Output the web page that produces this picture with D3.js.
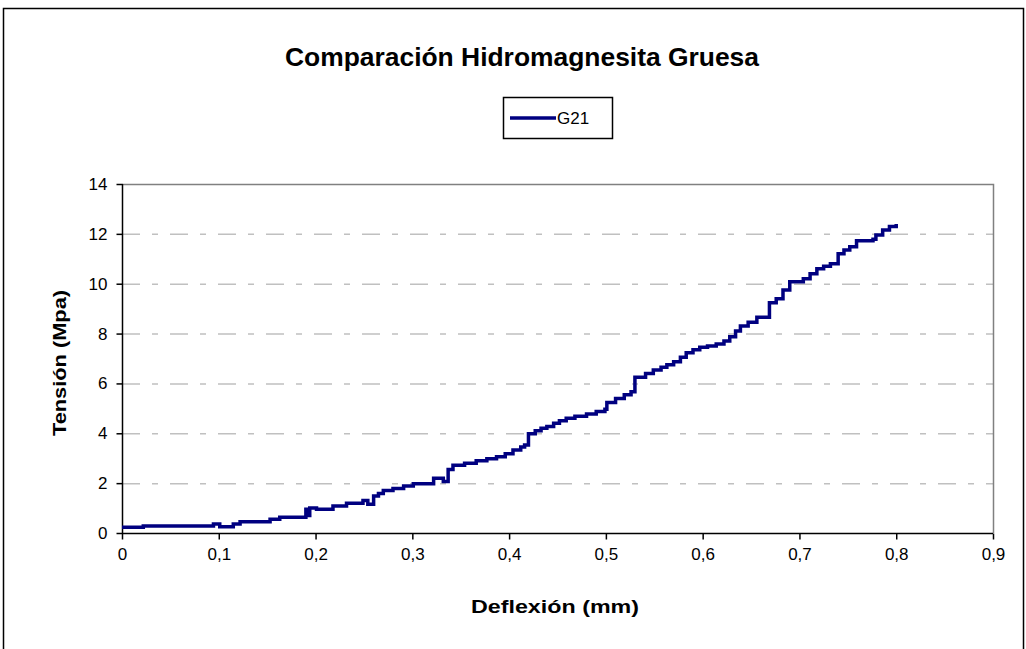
<!DOCTYPE html>
<html>
<head>
<meta charset="utf-8">
<script src="https://cdn.jsdelivr.net/npm/d3@7"></script>
<style>
  body { margin: 0; background: #fff; }
  text { font-family: "Liberation Sans", Arial, sans-serif; }
</style>
</head>
<body>
<script>
var w = 1026
var h = 649

// data
var deflexion = [0, 0.022, 0.0945, 0.101, 0.115, 0.122, 0.153, 0.163, 0.19, 0.192, 0.194, 0.201, 0.218, 0.232, 0.249, 0.254, 0.26, 0.265, 0.27, 0.28, 0.291, 0.301, 0.322, 0.332, 0.337, 0.342, 0.354, 0.366, 0.377, 0.387, 0.396, 0.404, 0.412, 0.416, 0.42, 0.427, 0.433, 0.439, 0.446, 0.452, 0.459, 0.468, 0.48, 0.49, 0.499, 0.501, 0.51, 0.519, 0.526, 0.53, 0.541, 0.549, 0.557, 0.563, 0.57, 0.577, 0.583, 0.59, 0.597, 0.605, 0.614, 0.622, 0.628, 0.634, 0.639, 0.647, 0.656, 0.669, 0.676, 0.683, 0.69, 0.704, 0.711, 0.718, 0.725, 0.732, 0.74, 0.746, 0.752, 0.759, 0.776, 0.779, 0.786, 0.793, 0.8]
var tension = [0.23, 0.28, 0.36, 0.25, 0.36, 0.45, 0.55, 0.63, 0.95, 0.7, 1.0, 0.95, 1.08, 1.19, 1.3, 1.15, 1.48, 1.58, 1.7, 1.79, 1.89, 1.98, 2.2, 2.07, 2.55, 2.72, 2.8, 2.9, 2.98, 3.06, 3.18, 3.33, 3.45, 3.53, 3.98, 4.1, 4.2, 4.27, 4.4, 4.5, 4.6, 4.68, 4.77, 4.87, 4.96, 5.23, 5.4, 5.55, 5.67, 6.25, 6.4, 6.54, 6.65, 6.75, 6.87, 7.05, 7.23, 7.35, 7.45, 7.5, 7.58, 7.7, 7.87, 8.1, 8.3, 8.45, 8.65, 9.24, 9.4, 9.75, 10.08, 10.2, 10.4, 10.6, 10.7, 10.8, 11.2, 11.35, 11.48, 11.72, 11.78, 11.95, 12.15, 12.3, 12.4]
var xTicks = [0, 0.1, 0.2, 0.3, 0.4, 0.5, 0.6, 0.7, 0.8, 0.9]
var yTicks = [0, 2, 4, 6, 8, 10, 12, 14]
var serie = "G21"

var data = deflexion.map(function(d, i) { return [d, tension[i]] })

var svg = d3.select("body").append("svg")
  .attr("width", w)
  .attr("height", h)

// outer chart border
svg.append("rect")
  .attr("x", 3.5).attr("y", 8.5)
  .attr("width", 1020).attr("height", 700)
  .attr("fill", "#fff").attr("stroke", "#000").attr("stroke-width", 1.5)

var pLeft = 122, pRight = 993, pTop = 184, pBottom = 533

var x = d3.scaleLinear().domain([0, 0.9]).range([pLeft, pRight])
var y = d3.scaleLinear().domain([0, 14]).range([pBottom, pTop])

// grid lines
svg.append("g").selectAll("line")
  .data(yTicks.filter(function(d) { return d > 0 && d < 14 }))
  .enter().append("line")
  .attr("x1", pLeft).attr("x2", pRight)
  .attr("y1", function(d) { return y(d) + 0.5 })
  .attr("y2", function(d) { return y(d) + 0.5 })
  .attr("stroke", "#c0c0c0")
  .attr("stroke-width", 1.5)
  .attr("stroke-dasharray", "18,12,6,12")

// plot area border (top, right)
svg.append("path")
  .attr("d", "M" + pLeft + "," + (pTop + 0.5) + "H" + (pRight + 0.5) + "V" + pBottom)
  .attr("fill", "none").attr("stroke", "#808080").attr("stroke-width", 1.5)

var fmt = function(d) { return String(d).replace(".", ",") }

var xAxis = svg.append("g")
  .attr("transform", "translate(0," + (pBottom + 0.5) + ")")
  .call(d3.axisBottom(x).tickValues(xTicks).tickFormat(fmt).tickSize(6).tickPadding(8))
var yAxis = svg.append("g")
  .attr("transform", "translate(" + (pLeft + 0.5) + ",0)")
  .call(d3.axisLeft(y).tickValues(yTicks).tickFormat(fmt).tickSize(6).tickPadding(9))

;[xAxis, yAxis].forEach(function(a) {
  a.select(".domain").attr("stroke", "#000").attr("stroke-width", 1.5)
  a.selectAll(".tick line").attr("stroke", "#000").attr("stroke-width", 1.5)
  a.selectAll(".tick text").attr("font-size", "17px").attr("fill", "#000")
    .attr("font-family", "Liberation Sans, Arial, sans-serif")
})
xAxis.select(".domain").attr("d", "M" + pLeft + ",0H" + pRight)
yAxis.select(".domain").attr("d", "M0," + pTop + "V" + pBottom)

// the curve
var line = d3.line()
  .x(function(d) { return x(d[0]) })
  .y(function(d) { return y(d[1]) })
  .curve(d3.curveStepAfter)

svg.append("path")
  .datum(data)
  .attr("d", line)
  .attr("fill", "none")
  .attr("stroke", "#000080")
  .attr("stroke-width", 3.5)

// title
svg.append("text")
  .text("Comparación Hidromagnesita Gruesa")
  .attr("x", 522).attr("y", 66)
  .attr("text-anchor", "middle")
  .attr("font-size", "25px").attr("font-weight", "bold")
  .attr("textLength", 474).attr("lengthAdjust", "spacingAndGlyphs")

// legend
svg.append("rect")
  .attr("x", 503.5).attr("y", 97.5)
  .attr("width", 109).attr("height", 41)
  .attr("fill", "#fff").attr("stroke", "#000").attr("stroke-width", 1.5)
svg.append("line")
  .attr("x1", 510).attr("x2", 556)
  .attr("y1", 118).attr("y2", 118)
  .attr("stroke", "#000080").attr("stroke-width", 3.5)
svg.append("text")
  .text(serie)
  .attr("x", 557).attr("y", 124)
  .attr("font-size", "17px")

// axis titles
svg.append("text")
  .text("Deflexión (mm)")
  .attr("x", 555).attr("y", 613)
  .attr("text-anchor", "middle")
  .attr("font-size", "19px").attr("font-weight", "bold")
  .attr("textLength", 168).attr("lengthAdjust", "spacingAndGlyphs")

svg.append("text")
  .text("Tensión (Mpa)")
  .attr("transform", "translate(66,363) rotate(-90)")
  .attr("text-anchor", "middle")
  .attr("font-size", "19px").attr("font-weight", "bold")
  .attr("textLength", 146).attr("lengthAdjust", "spacingAndGlyphs")
</script>
</body>
</html>
